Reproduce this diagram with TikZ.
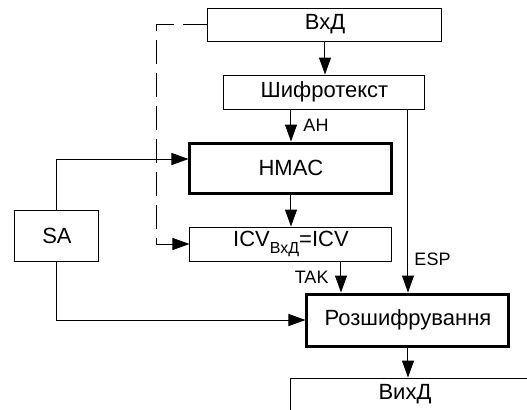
\documentclass[tikz,border=0pt]{standalone}
\usepackage{fontspec}
\setmainfont{Liberation Sans}
\usetikzlibrary{arrows.meta, positioning}
\tikzset{
  blockbox/.style={draw=black, fill=white, inner sep=0pt, line width=0.5pt,
    font=\fontsize{11}{13}\selectfont},
  thickbox/.style={blockbox, line width=1.5pt},
  flowline/.style={line width=0.5pt, black},
  flowarrow/.style={flowline, -{Triangle[length=8.5pt, width=6pt]}},
  flowlabel/.style={font=\fontsize{9}{10}\selectfont, inner sep=2pt},
  keydash/.style={dash pattern=on 12pt off 4.5pt},
}

\begin{document}
\begin{tikzpicture}[x=0.5pt, y=-0.5pt]
  \useasboundingbox (0,0) rectangle (527,409);
  \clip (0,0) rectangle (527,409);
  \node[blockbox, minimum width=117pt, minimum height=16.5pt] (vxd) at (325,24.5) {ВхД};
  \node[blockbox, minimum width=100.5pt, minimum height=17pt] (shyfr) at (324.5,92) {Шифротекст};
  \node[thickbox, minimum width=101pt, minimum height=25pt] (hmac) at (291,168) {HMAC};
  \node[blockbox, minimum width=101pt, minimum height=17pt] (icv) at (291,244)
    {ICV\raisebox{-0.55ex}{\fontsize{8}{9}\selectfont ВхД}=ICV};
  \node[blockbox, minimum width=42pt, minimum height=25.5pt] (sa) at (57,235.5) {SA};
  \node[thickbox, minimum width=101pt, minimum height=26pt] (decr) at (408,320) {Розшифрування};
  \node[blockbox, minimum width=120pt, minimum height=16.5pt] (vyhd) at (411,394.5) {\hspace*{-6pt}ВихД};
  \draw[flowarrow] (vxd.south) -- (vxd.south |- shyfr.north);
  \draw[flowarrow] (hmac.north |- shyfr.south) -- (hmac.north)
    node[midway, right=4pt, flowlabel] {AH};
  \draw[flowarrow] (decr.north |- shyfr.south) -- (decr.north)
    node[pos=0.82, right=1pt, flowlabel] {ESP};
  \draw[flowarrow] (hmac.south) -- (icv.north);
  \draw[flowarrow] ([xshift=25pt]icv.south) -- ([xshift=25pt]icv.south |- decr.north)
    node[midway, left=4pt, flowlabel] {TAK};
  \draw[flowarrow] (sa.north) |- ([yshift=4.5pt]hmac.west);
  \draw[flowarrow] (sa.south) |- (decr.west);
  \draw[flowarrow] (decr.south) -- (decr.south |- vyhd.north);
  \draw[flowarrow, keydash] (vxd.west) -- ++(-51,0) |- (icv.west);
\end{tikzpicture}
\end{document}
